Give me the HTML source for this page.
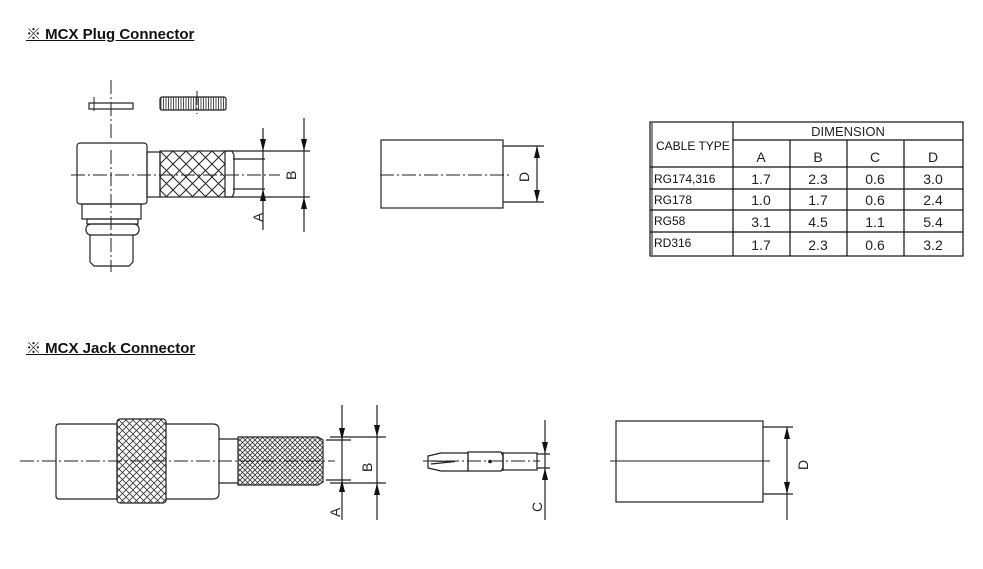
<!DOCTYPE html>
<html><head><meta charset="utf-8"><style>
body{margin:0;background:#fff;width:983px;height:569px;overflow:hidden;position:relative;font-family:"Liberation Sans","Noto Sans CJK JP",sans-serif}
.t{position:absolute;left:26px;font-weight:bold;font-size:15px;text-decoration:underline;color:#111;white-space:nowrap}
svg{position:absolute;left:0;top:0}
</style></head><body>
<div class="t" style="top:23px">※ MCX Plug Connector</div>
<div class="t" style="top:337px">※ MCX Jack Connector</div>
<svg width="983" height="569" viewBox="0 0 983 569">
<defs>
<pattern id="x1" width="13" height="13" patternUnits="userSpaceOnUse" x="160" y="151"><path d="M0 0L13 13M13 0L0 13" stroke="#222" stroke-width="1"/></pattern>
<pattern id="x2" width="5" height="5" patternUnits="userSpaceOnUse"><path d="M0 0L5 5M5 0L0 5" stroke="#333" stroke-width="0.8"/></pattern>
<pattern id="x3" width="7" height="7" patternUnits="userSpaceOnUse"><path d="M0 0L7 7M7 0L0 7" stroke="#333" stroke-width="0.8"/></pattern>
<pattern id="v1" width="2.5" height="10" patternUnits="userSpaceOnUse"><path d="M1 0V10" stroke="#222" stroke-width="0.8"/></pattern>
</defs>
<g fill="none" stroke="#222" stroke-width="1.2">
<rect x="89" y="103" width="44" height="6"/>
<rect x="160" y="97" width="66" height="13" rx="2" fill="url(#v1)"/>
<rect x="77" y="143" width="70" height="61" rx="3"/>
<rect x="82" y="204" width="59" height="15"/>
<rect x="87" y="219" width="51" height="5"/>
<rect x="86" y="224" width="53" height="11" rx="5"/>
<path d="M90 235V262L94 266H129L133 262V235"/>
<rect x="147" y="152" width="13" height="45"/>
<rect x="160" y="151" width="65" height="46" fill="url(#x1)"/>
<path d="M225 151H232L234 155V193L232 197H225"/>
<path d="M233 159H265M233 189H265M225 151H310M225 197H310"/>
<path d="M263 128V230M304 118V232"/>
<rect x="381" y="140" width="122" height="68"/>
<path d="M503 146H544M503 202H544M537 146V202"/>
<!-- jack -->
<path d="M59 424H117V499H59Q56 499 56 496V427Q56 424 59 424Z"/>
<rect x="117" y="419" width="49" height="84" rx="3" fill="url(#x3)"/>
<path d="M166 424H213Q219 424 219 430V493Q219 499 213 499H166"/>
<path d="M219 439H238M219 483H238"/>
<path d="M238 437H318L323 440V482L318 485H238Z" fill="url(#x2)"/>
<path d="M326 440H351M326 480H351M330 437H386M330 483H386"/>
<path d="M342 405V520M377 405V520"/>
<path d="M428 456L441 453H468V471H441L428 468Z"/>
<path d="M431 461L455 461.5L431 464"/>
<path d="M468 452H501L503 456V468L501 471H468Z"/>
<path d="M503 452V471"/>
<rect x="503" y="453" width="34" height="17"/>
<path d="M537 454H550M537 468H550M545 420V520"/>
<rect x="616" y="421" width="147" height="81"/>
<path d="M763 427H793M763 494H793M787 427V520"/>
</g>
<g fill="#111">
<path d="M260 139L266 139L263 151Z M260 201L266 201L263 189Z"/>
<path d="M301 139L307 139L304 151Z M301 209L307 209L304 197Z"/>
<path d="M534 158L540 158L537 146Z M534 190L540 190L537 202Z"/>
<path d="M339 428L345 428L342 440Z M339 492L345 492L342 480Z"/>
<path d="M374 425L380 425L377 437Z M374 495L380 495L377 483Z"/>
<path d="M542 442L548 442L545 454Z M542 480L548 480L545 468Z"/>
<path d="M784 439L790 439L787 427Z M784 482L790 482L787 494Z"/>
<circle cx="490" cy="461.5" r="1.8"/>
</g>
<g fill="none" stroke="#222" stroke-width="1" stroke-dasharray="14 3 2 3">
<path d="M111 80V138M111 150V272M71 175H280M380 175H510M94 97V112M197 91V114"/>
<path d="M20 461H335M423 461H540"/>
</g>
<path d="M610 461H770" stroke="#222" stroke-width="1"/>
<g font-family="Liberation Sans,sans-serif" font-size="14" fill="#222">
<text transform="translate(263 222) rotate(-90)">A</text>
<text transform="translate(296 180) rotate(-90)">B</text>
<text transform="translate(529 182) rotate(-90)">D</text>
<text transform="translate(340 517) rotate(-90)">A</text>
<text transform="translate(372 472) rotate(-90)">B</text>
<text transform="translate(542 512) rotate(-90)">C</text>
<text transform="translate(808 470) rotate(-90)">D</text>
</g>
<g fill="none" stroke="#111" stroke-width="1.2">
<rect x="650" y="122" width="313" height="134"/>
<path d="M652 123V255" stroke-width="1"/>
<path d="M733 122V256M733 140H963M650 167H963M650 189H963M650 210H963M650 232H963M790 140V256M847 140V256M904 140V256"/>
</g>
<g font-family="Liberation Sans,sans-serif" fill="#111" font-size="12">
<text x="656" y="150">CABLE TYPE</text>
<text x="654" y="183">RG174,316</text>
<text x="654" y="204">RG178</text>
<text x="654" y="225">RG58</text>
<text x="654" y="247">RD316</text>
</g>
<g font-family="Liberation Sans,sans-serif" fill="#222" font-size="14" text-anchor="middle">
<text x="848" y="136" font-size="13">DIMENSION</text>
<text x="761" y="162">A</text><text x="818" y="162">B</text><text x="875" y="162">C</text><text x="933" y="162">D</text>
<text x="761" y="184">1.7</text><text x="818" y="184">2.3</text><text x="875" y="184">0.6</text><text x="933" y="184">3.0</text>
<text x="761" y="205">1.0</text><text x="818" y="205">1.7</text><text x="875" y="205">0.6</text><text x="933" y="205">2.4</text>
<text x="761" y="227">3.1</text><text x="818" y="227">4.5</text><text x="875" y="227">1.1</text><text x="933" y="227">5.4</text>
<text x="761" y="250">1.7</text><text x="818" y="250">2.3</text><text x="875" y="250">0.6</text><text x="933" y="250">3.2</text>
</g>
</svg>
</body></html>
